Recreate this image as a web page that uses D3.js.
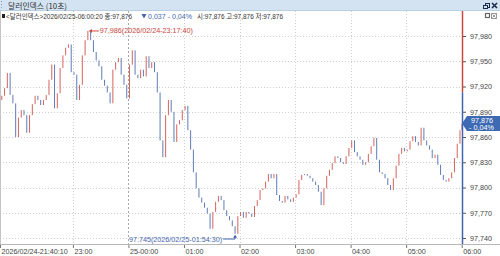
<!DOCTYPE html>
<html>
<head>
<meta charset="utf-8">
<script src="https://cdn.jsdelivr.net/npm/d3@7"></script>
<style>
  body { margin: 0; background: #fff; }
  svg { display: block; font-family: "Liberation Sans", "Noto Sans CJK KR", sans-serif; }
</style>
</head>
<body>
<script>
const W = 500, H = 256;
const plotLeft = 0, plotRight = 462, plotTop = 11, plotBottom = 244;

// 10-second dollar index, read every 3 minutes from 2026/02/24 21:40:10
const startTime = new Date(2026, 1, 24, 21, 40, 10);
const stepMinutes = 3;
const closes = [
  97.904, 97.909, 97.918, 97.936, 97.910, 97.900, 97.860, 97.883, 97.892, 97.886,
  97.865, 97.886, 97.899, 97.909, 97.904, 97.898, 97.904, 97.910, 97.928, 97.946,
  97.894, 97.912, 97.942, 97.957, 97.966, 97.970, 97.937, 97.934, 97.904, 97.922,
  97.957, 97.975, 97.986, 97.975, 97.961, 97.951, 97.944, 97.928, 97.921, 97.913,
  97.900, 97.940, 97.949, 97.954, 97.934, 97.922, 97.906, 97.946, 97.963, 97.934,
  97.930, 97.940, 97.932, 97.956, 97.942, 97.949, 97.937, 97.913, 97.856, 97.836,
  97.886, 97.904, 97.890, 97.854, 97.875, 97.880, 97.892, 97.897, 97.868, 97.845,
  97.818, 97.799, 97.788, 97.782, 97.776, 97.769, 97.751, 97.771, 97.783, 97.790,
  97.785, 97.773, 97.766, 97.761, 97.754, 97.745, 97.766, 97.771, 97.764, 97.771,
  97.769, 97.765, 97.778, 97.785, 97.797, 97.799, 97.807, 97.816, 97.811, 97.816,
  97.791, 97.784, 97.782, 97.790, 97.786, 97.783, 97.788, 97.792, 97.809, 97.815,
  97.816, 97.814, 97.811, 97.807, 97.803, 97.795, 97.779, 97.799, 97.814, 97.821,
  97.829, 97.837, 97.835, 97.830, 97.828, 97.837, 97.847, 97.856, 97.842, 97.837,
  97.833, 97.827, 97.830, 97.840, 97.849, 97.859, 97.833, 97.818, 97.816, 97.811,
  97.803, 97.797, 97.811, 97.826, 97.840, 97.847, 97.843, 97.845, 97.855, 97.861,
  97.854, 97.850, 97.871, 97.856, 97.850, 97.845, 97.835, 97.839, 97.827, 97.815,
  97.809, 97.807, 97.811, 97.818, 97.835, 97.852, 97.868
];
const lastTime = new Date(2026, 1, 25, 6, 0, 20);
const lastClose = 97.876;
const prevClose = 97.913;

const yTicks = [97.740, 97.770, 97.800, 97.830, 97.860, 97.890, 97.920, 97.950, 97.980];
const xTickTimes = [
  new Date(2026, 1, 24, 21, 40, 10), new Date(2026, 1, 24, 23, 0), new Date(2026, 1, 25, 0, 0),
  new Date(2026, 1, 25, 1, 0), new Date(2026, 1, 25, 2, 0), new Date(2026, 1, 25, 3, 0),
  new Date(2026, 1, 25, 4, 0), new Date(2026, 1, 25, 5, 0), new Date(2026, 1, 25, 6, 0)
];
const xTickLabels = ["2026/02/24-21:40:10", "23:00", "25-00:00", "01:00", "02:00", "03:00", "04:00", "05:00", "06:00"];

const maxLabel = "97,986(2026/02/24-23:17:40)";
const minLabel = "97.745(2026/02/25-01:54:30)";

const RED = "#c9463d", BLUE = "#3f66ad";
const CANDLE_RED = "#d4645c", CANDLE_BLUE = "#5f7db5";

// candles: open = previous close
const candles = closes.map((c, i) => ({
  t: d3.timeMinute.offset(startTime, i * stepMinutes),
  o: i === 0 ? c : closes[i - 1],
  c: c
}));
candles.push({ t: lastTime, o: closes[closes.length - 1], c: lastClose });

const x = d3.scaleTime().domain([startTime, lastTime]).range([-1, 462]);
const y = d3.scaleLinear().domain([97.740, 97.980]).range([238, 36]);

const svg = d3.select("body").append("svg").attr("width", W).attr("height", H);

// grid
svg.append("g").selectAll("line").data(yTicks).join("line")
  .attr("x1", plotLeft).attr("x2", plotRight)
  .attr("y1", d => Math.round(y(d)) + 0.5).attr("y2", d => Math.round(y(d)) + 0.5)
  .attr("stroke", "#cfcfcf").attr("stroke-dasharray", "1,2");

svg.append("g").selectAll("line").data(xTickTimes.slice(1, -1)).join("line")
  .attr("x1", d => Math.round(x(d)) + 0.5).attr("x2", d => Math.round(x(d)) + 0.5)
  .attr("y1", plotTop).attr("y2", plotBottom)
  .attr("stroke", d => d.getHours() === 0 ? "#a8a8a8" : "#cfcfcf")
  .attr("stroke-dasharray", d => d.getHours() === 0 ? "2,2" : "1,2");

// borders
svg.append("line").attr("x1", 0.5).attr("x2", 0.5).attr("y1", plotTop).attr("y2", plotBottom).attr("stroke", "#c4c4c4");
svg.append("line").attr("x1", 0).attr("x2", W).attr("y1", plotBottom + 0.5).attr("y2", plotBottom + 0.5).attr("stroke", "#b8b8b8");

// candles
svg.append("g").selectAll("rect").data(candles).join("rect")
  .attr("x", d => x(d.t) - 0.5)
  .attr("width", 1)
  .attr("y", d => y(Math.max(d.o, d.c)))
  .attr("height", d => Math.max(1, Math.abs(y(d.o) - y(d.c))))
  .attr("fill", d => d.c >= d.o ? CANDLE_RED : CANDLE_BLUE);

// right axis line, red above previous close, blue below
const splitY = y(prevClose);
svg.append("line").attr("x1", plotRight + 0.5).attr("x2", plotRight + 0.5).attr("y1", plotTop).attr("y2", splitY)
  .attr("stroke", RED).attr("stroke-width", 1.5);
svg.append("line").attr("x1", plotRight + 0.5).attr("x2", plotRight + 0.5).attr("y1", splitY).attr("y2", plotBottom)
  .attr("stroke", BLUE).attr("stroke-width", 1.5);

// y axis
const yAxis = svg.append("g").attr("transform", `translate(${plotRight + 1},0)`)
  .call(d3.axisRight(y).tickValues(yTicks).tickSize(3).tickPadding(4)
    .tickFormat(d => d.toFixed(3).replace(".", ",")));
yAxis.select(".domain").remove();
yAxis.selectAll("line").attr("stroke", "#555");
yAxis.selectAll("text").attr("font-size", 7.2).attr("fill", "#444").attr("font-family", "Liberation Sans");

// x axis
const xAxis = svg.append("g").attr("transform", `translate(0,${plotBottom + 1})`)
  .call(d3.axisBottom(x).tickValues(xTickTimes).tickSize(3).tickPadding(2)
    .tickFormat((d, i) => xTickLabels[i]));
xAxis.select(".domain").remove();
xAxis.selectAll("line").attr("stroke", "#777");
xAxis.selectAll("text").attr("text-anchor", "start").attr("dx", 1).attr("dy", "0.6em")
  .attr("font-size", 7.2).attr("fill", "#444").attr("font-family", "Liberation Sans");
xAxis.select(".tick:first-of-type").attr("transform", "translate(0.5,0)");

// max / min annotations
const maxC = candles.reduce((a, b) => b.c > a.c ? b : a);
const minC = candles.reduce((a, b) => b.c < a.c ? b : a);
const mx = x(maxC.t), my = y(maxC.c);
svg.append("line").attr("x1", mx + 2).attr("x2", mx + 11).attr("y1", my).attr("y2", my).attr("stroke", RED);
svg.append("path").attr("d", `M${mx + 1},${my} l3,-2 v4 z`).attr("fill", RED);
svg.append("text").attr("x", mx + 12).attr("y", my).attr("dy", "0.35em")
  .attr("font-size", 7.2).attr("fill", RED).text(maxLabel);

const nx = x(minC.t), ny = y(minC.c);
const minTextY = 239;
svg.append("path").attr("d", `M${nx - 12},${minTextY} H${nx} V${ny + 2}`)
  .attr("fill", "none").attr("stroke", BLUE);
svg.append("path").attr("d", `M${nx},${ny + 1} l-2,3 h4 z`).attr("fill", BLUE);
svg.append("text").attr("x", nx - 13).attr("y", minTextY).attr("dy", "0.35em").attr("text-anchor", "end")
  .attr("font-size", 7.2).attr("fill", BLUE).text(minLabel);

// current price tag
const cy = y(lastClose);
svg.append("path").attr("d", `M${plotRight},${cy} L${plotRight + 5},${cy - 7.5} H${W} V${cy + 7.5} H${plotRight + 5} Z`)
  .attr("fill", "#3d6ab3");
svg.append("text").attr("x", 471).attr("y", cy - 1).attr("font-size", 7.2).attr("fill", "#fff").text("97,876");
svg.append("text").attr("x", 469).attr("y", cy + 6.5).attr("font-size", 7.2).attr("fill", "#fff").text("- 0,04%");

// title bar
svg.append("rect").attr("x", 0).attr("y", 0).attr("width", W).attr("height", 10.5).attr("fill", "#d3e3f2");
svg.append("line").attr("x1", 0).attr("x2", W).attr("y1", 10.5).attr("y2", 10.5).attr("stroke", "#b9cfe4");
[2, 5, 8].forEach(v => svg.append("rect").attr("x", 1).attr("y", v - 1).attr("width", 1).attr("height", 1).attr("fill", "#8aa0b8"));
svg.append("text").attr("x", 8).attr("y", 8.5).attr("font-size", 8).attr("fill", "#333")
  .attr("font-family", "Noto Sans CJK KR").attr("textLength", 59).attr("lengthAdjust", "spacingAndGlyphs")
  .text("달러인덱스 (10초)");
// window icons
svg.append("rect").attr("x", 485.5).attr("y", 3.5).attr("width", 4).attr("height", 4).attr("fill", "none").attr("stroke", "#1b2c4d");
svg.append("rect").attr("x", 483.5).attr("y", 5.5).attr("width", 4).attr("height", 3).attr("fill", "#d3e3f2").attr("stroke", "#1b2c4d");
svg.append("path").attr("d", "M492,3 L497,8 M497,3 L492,8").attr("stroke", "#1b2c4d").attr("stroke-width", 1.6);

// info row
svg.append("rect").attr("x", 2).attr("y", 14).attr("width", 3).attr("height", 4).attr("fill", "#222");
svg.append("text").attr("x", 6).attr("y", 18.5).attr("font-size", 7.4).attr("fill", "#333")
  .attr("textLength", 126).attr("lengthAdjust", "spacingAndGlyphs")
  .text("<달러인덱스>2026/02/25-06:00:20 종:97,876");
svg.append("path").attr("d", "M141.5,14 h5 l-2.5,4.5 z").attr("fill", BLUE);
svg.append("text").attr("x", 148).attr("y", 18.5).attr("font-size", 7.4).attr("fill", BLUE)
  .attr("textLength", 44).attr("lengthAdjust", "spacingAndGlyphs")
  .text("0,037  - 0,04%");
svg.append("text").attr("x", 197).attr("y", 18.5).attr("font-size", 7.4).attr("fill", "#333")
  .attr("textLength", 86).attr("lengthAdjust", "spacingAndGlyphs")
  .text("시:97,876 고:97,876 저:97,876");
svg.append("rect").attr("x", 485.5).attr("y", 13.5).attr("width", 4).attr("height", 4).attr("fill", "none").attr("stroke", "#666").attr("stroke-width", 1.2);
svg.append("rect").attr("x", 491.5).attr("y", 13.5).attr("width", 5).attr("height", 5).attr("fill", "none").attr("stroke", "#999");
svg.append("path").attr("d", "M492.5,14.5 L495.5,17.5 M495.5,14.5 L492.5,17.5").attr("stroke", "#999");
</script>
</body>
</html>
